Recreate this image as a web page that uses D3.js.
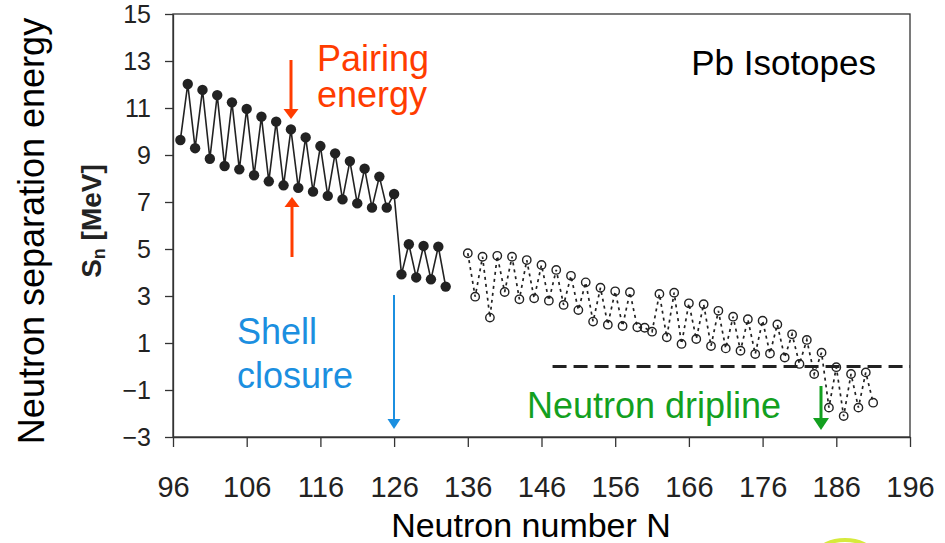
<!DOCTYPE html>
<html>
<head>
<meta charset="utf-8">
<script src="https://d3js.org/d3.v7.min.js"></script>
<style>
  body { margin: 0; background: #fff; }
  text { font-family: "Liberation Sans", Arial, sans-serif; }
  .axis path, .axis line { stroke: #333; stroke-width: 1.3px; }
  .axis text { fill: #222; }
</style>
</head>
<body>
<svg width="945" height="543"></svg>
<script>
// measured points (filled) - N = 97..133
var expN = d3.range(97, 134);
var expSn = [9.64, 12.02, 9.29, 11.77, 8.84, 11.55, 8.53, 11.24, 8.39, 10.96,
             8.14, 10.63, 7.88, 10.42, 7.71, 10.09, 7.60, 9.75, 7.44, 9.38,
             7.26, 9.07, 7.11, 8.74, 6.94, 8.42, 6.76, 8.08, 6.76, 7.34,
             3.92, 5.20, 3.79, 5.13, 3.71, 5.10, 3.40];

// predicted points (open) - N = 136..191
var thN = d3.range(136, 192);
var thSn = [4.82, 2.97, 4.67, 2.08, 4.71, 3.17, 4.67, 2.86, 4.53, 2.90,
            4.32, 2.80, 4.11, 2.62, 3.86, 2.40, 3.58, 1.91, 3.35, 1.78,
            3.20, 1.72, 3.16, 1.67, 1.65, 1.48, 3.09, 1.24, 3.14, 0.96,
            2.69, 1.17, 2.65, 0.87, 2.37, 0.77, 2.12, 0.67, 2.01, 0.53,
            1.95, 0.55, 1.79, 0.38, 1.37, 0.11, 1.13, -0.32, 0.59, -1.75,
            -0.03, -2.11, -0.32, -1.75, -0.25, -1.54];

var xTicks = d3.range(96, 197, 10);
var yTicks = d3.range(-3, 16, 2);
var driplineN = [147.5, 196];

var svg = d3.select("svg");
var x = d3.scaleLinear().domain([96, 196]).range([173, 910]);
var y = d3.scaleLinear().domain([-3, 15]).range([437, 14]);

// frame
svg.append("rect").attr("x", 173).attr("y", 14).attr("width", 737).attr("height", 423)
  .attr("fill", "none").attr("stroke", "#333").attr("stroke-width", 1.3);

var yAxis = svg.append("g").attr("class", "axis").attr("transform", "translate(173,0)")
  .call(d3.axisLeft(y).tickValues(yTicks).tickSize(8).tickSizeOuter(0).tickPadding(14));
yAxis.selectAll("text").style("font-size", "25px");

var xAxis = svg.append("g").attr("class", "axis").attr("transform", "translate(0,437)")
  .call(d3.axisBottom(x).tickValues(xTicks).tickSize(10).tickSizeOuter(0));
xAxis.selectAll("text").style("font-size", "29px").attr("y", 60).attr("dy", 0);

// axis titles
svg.append("text").attr("transform", "translate(44,231) rotate(-90)")
  .attr("text-anchor", "middle").style("font-size", "36px").attr("fill", "#000")
  .text("Neutron separation energy");
var sn = svg.append("text").attr("transform", "translate(101,221) rotate(-90)")
  .attr("text-anchor", "middle").style("font-size", "28px").style("font-weight", "bold").attr("fill", "#222");
sn.append("tspan").text("S");
sn.append("tspan").text("n").style("font-size", "18px").attr("dy", 4);
sn.append("tspan").text(" [MeV]").attr("dy", -4);

svg.append("text").attr("x", 531).attr("y", 537).attr("text-anchor", "middle")
  .style("font-size", "34px").attr("fill", "#000").text("Neutron number N");

// dripline reference
svg.append("line").attr("x1", x(driplineN[0])).attr("x2", x(driplineN[1]))
  .attr("y1", y(0)).attr("y2", y(0))
  .attr("stroke", "#222").attr("stroke-width", 3).attr("stroke-dasharray", "14,7");

// measured
var exp = expN.map(function(n, i) { return {n: n, s: expSn[i]}; });
var th = thN.map(function(n, i) { return {n: n, s: thSn[i]}; });
var line = d3.line().x(function(d) { return x(d.n); }).y(function(d) { return y(d.s); });

svg.append("path").datum(exp).attr("d", line).attr("fill", "none")
  .attr("stroke", "#222").attr("stroke-width", 1.6);
svg.append("g").selectAll("circle").data(exp).enter().append("circle")
  .attr("cx", function(d) { return x(d.n); }).attr("cy", function(d) { return y(d.s); })
  .attr("r", 5.2).attr("fill", "#222");

svg.append("path").datum(th).attr("d", line).attr("fill", "none")
  .attr("stroke", "#222").attr("stroke-width", 1.7).attr("stroke-dasharray", "3,4");
svg.append("g").selectAll("circle").data(th).enter().append("circle")
  .attr("cx", function(d) { return x(d.n); }).attr("cy", function(d) { return y(d.s); })
  .attr("r", 4.2).attr("fill", "none").attr("stroke", "#222").attr("stroke-width", 1.4);

// annotations
function arrow(px, y0, y1, col, w, hw, hh) {
  var dir = y1 > y0 ? 1 : -1;
  svg.append("line").attr("x1", px).attr("x2", px).attr("y1", y0).attr("y2", y1 - dir * hh)
    .attr("stroke", col).attr("stroke-width", w);
  svg.append("path").attr("fill", col)
    .attr("d", "M" + (px - hw) + "," + (y1 - dir * hh) + "L" + (px + hw) + "," + (y1 - dir * hh) + "L" + px + "," + y1 + "Z");
}
function twoLines(px, py, gap, col, a, b) {
  var t = svg.append("text").attr("x", px).attr("y", py).style("font-size", "36px").attr("fill", col);
  t.append("tspan").attr("x", px).text(a);
  t.append("tspan").attr("x", px).attr("dy", gap).text(b);
}
var red = "#ff3c00", blue = "#1b8fe0", green = "#13a01f";
twoLines(317, 71, 36, red, "Pairing", "energy");
arrow(291, 60, 119, red, 3, 7.5, 10);
arrow(292, 257, 197, red, 3, 7.5, 10);

twoLines(237, 344, 44, blue, "Shell", "closure");
arrow(394, 295, 429, blue, 2, 6.5, 10);

svg.append("text").attr("x", 527).attr("y", 418).style("font-size", "36px").attr("fill", green).text("Neutron dripline");
arrow(821, 386, 430, green, 3, 8, 12);

svg.append("text").attr("x", 876).attr("y", 75).attr("text-anchor", "end")
  .style("font-size", "35px").attr("fill", "#000").text("Pb Isotopes");

// stray logo fragment at the bottom edge
svg.append("ellipse").attr("cx", 845).attr("cy", 553).attr("rx", 26).attr("ry", 13)
  .attr("fill", "none").attr("stroke", "#d6ea3c").attr("stroke-width", 4);
</script>
</body>
</html>
